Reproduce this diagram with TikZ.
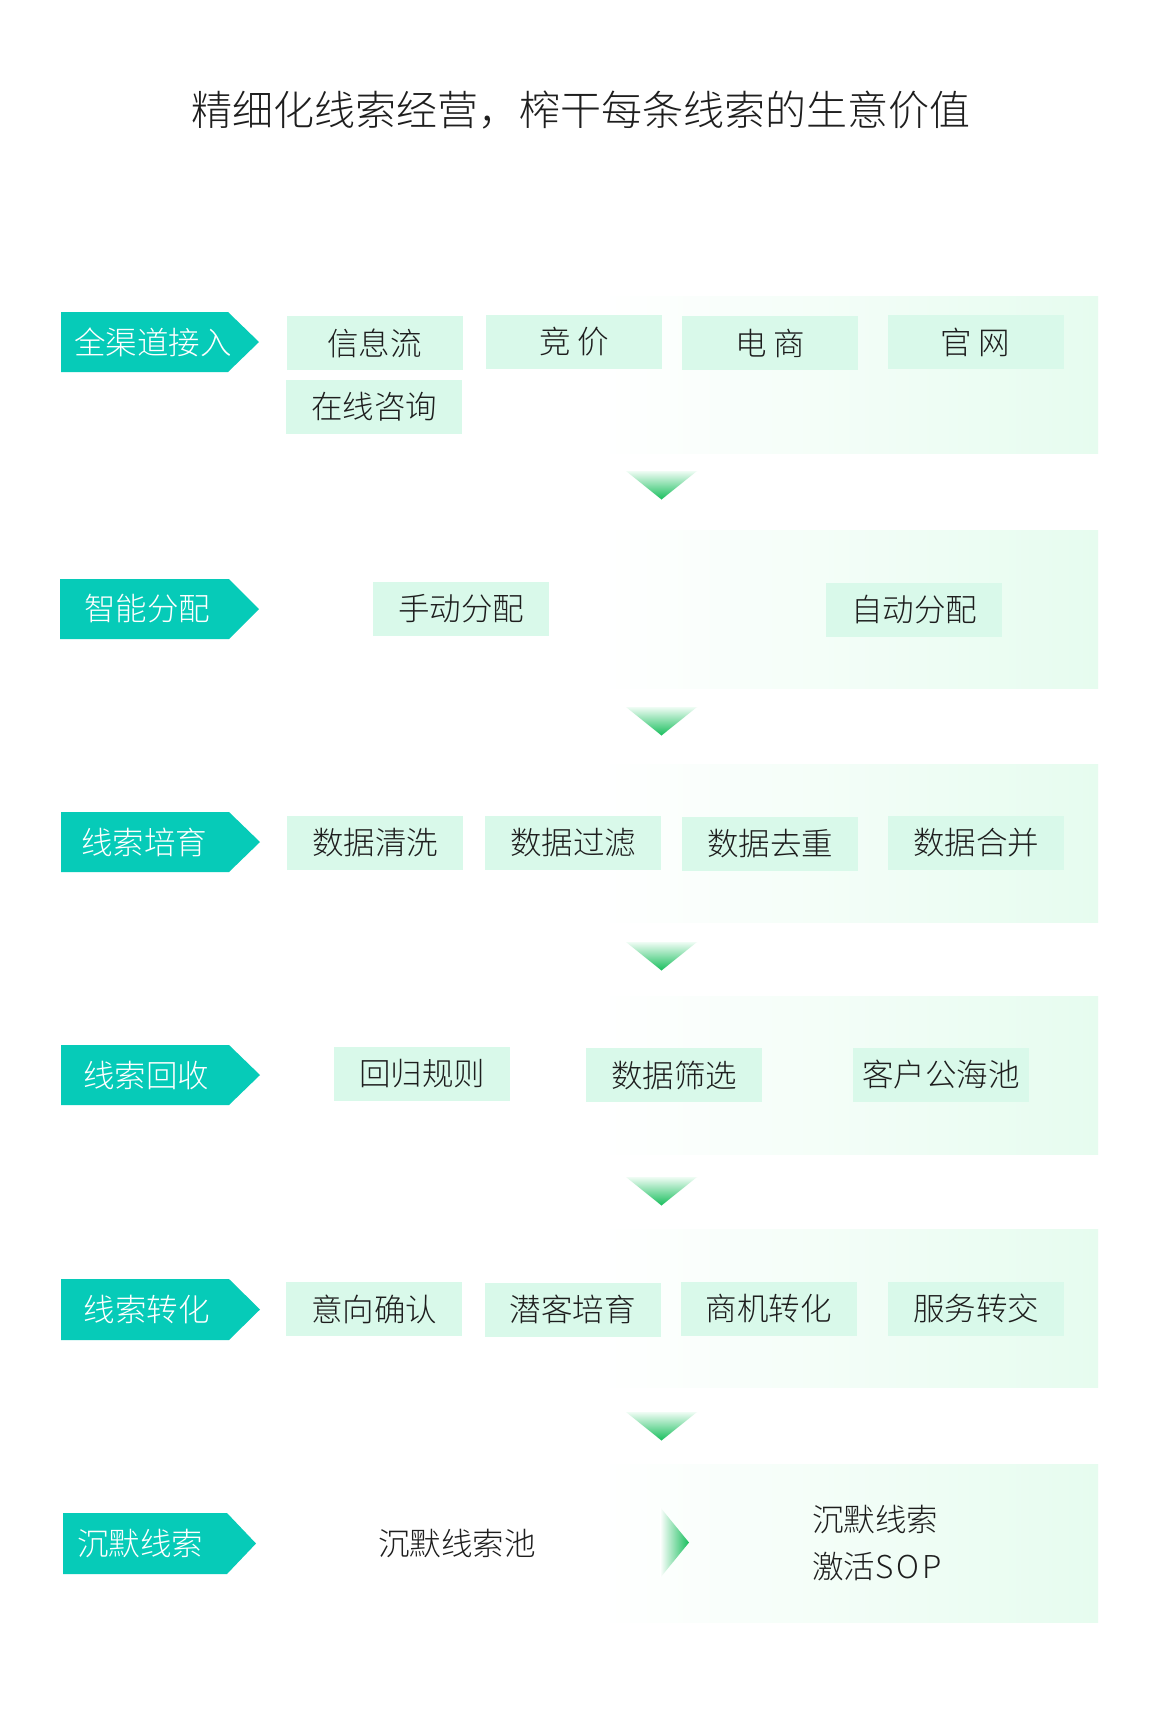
\documentclass[tikz,border=0pt]{standalone}
\usepackage{fontspec}
\setmainfont{Noto Sans CJK SC Light}
\definecolor{lblc}{HTML}{06CBB8}
\definecolor{boxc}{HTML}{D9F9EA}
\definecolor{txt}{HTML}{1E1E1E}
\definecolor{bgL}{HTML}{FFFFFF}
\definecolor{bgR}{HTML}{E6FCEF}
\definecolor{triL}{HTML}{EFFCF4}
\definecolor{triD}{HTML}{17BE5C}
\begin{document}
\begin{tikzpicture}[x=1pt,y=-1pt,
  lblshape/.style={fill=lblc,draw=none},
  lbltext/.style={text=white,font=\fontsize{31.5}{38}\selectfont,inner sep=0pt,anchor=center},
  box/.style={fill=boxc,draw=none,minimum width=176pt,minimum height=54pt,inner sep=0pt,
    font=\fontsize{31.5}{38}\selectfont,text=txt},
  plain/.style={font=\fontsize{31.5}{38}\selectfont,text=txt,inner sep=0pt},
  rowbg/.style={left color=bgL,right color=bgR,draw=none},
  downtri/.style={top color=triL,bottom color=triD,draw=none},
  righttri/.style={left color=white,right color=triD,draw=none}]
\useasboundingbox[fill=white] (0,0) rectangle (1160,1716);

% title
\node[font=\fontsize{41}{48}\selectfont,text=txt,inner sep=0pt] (title) at (581,110) {精细化线索经营，榨干每条线索的生意价值};

% row backgrounds
\shade[rowbg] (600,296) rectangle (1098,453);
\shade[rowbg] (600,530) rectangle (1098,688);
\shade[rowbg] (600,764) rectangle (1098,922);
\shade[rowbg] (600,996) rectangle (1098,1154);
\shade[rowbg] (600,1229) rectangle (1098,1387);
\shade[rowbg] (600,1464) rectangle (1098,1622);

% labels
\fill[lblshape] (61,312) -- (228,312) -- (259,342) -- (228,372) -- (61,372) -- cycle;
\node[lbltext] (l1) at (153,342) {全渠道接入};
\fill[lblshape] (60,579) -- (229,579) -- (259,609) -- (229,639) -- (60,639) -- cycle;
\node[lbltext] (l2) at (147,609) {智能分配};
\fill[lblshape] (61,812) -- (229,812) -- (260,842) -- (229,872) -- (61,872) -- cycle;
\node[lbltext] (l3) at (144,842) {线索培育};
\fill[lblshape] (61,1045) -- (229,1045) -- (260,1075) -- (229,1105) -- (61,1105) -- cycle;
\node[lbltext] (l4) at (146,1075) {线索回收};
\fill[lblshape] (61,1279) -- (229,1279) -- (260,1309.5) -- (229,1340) -- (61,1340) -- cycle;
\node[lbltext] (l5) at (146.5,1309.5) {线索转化};
\fill[lblshape] (63,1513) -- (227,1513) -- (256,1543.5) -- (227,1574) -- (63,1574) -- cycle;
\node[lbltext] (l6) at (140,1543.5) {沉默线索};

% row 1
\node[box] (b11) at (374.5,343) {信息流};
\node[box] (b12) at (574,342) {竞 价};
\node[box] (b13) at (770,343) {电 商};
\node[box] (b14) at (975.5,342) {官 网};
\node[box] (b15) at (374,407) {在线咨询};
% row 2
\node[box] (b21) at (461,609) {手动分配};
\node[box] (b22) at (914,609.5) {自动分配};
% row 3
\node[box] (b31) at (375,843) {数据清洗};
\node[box] (b32) at (573,842.5) {数据过滤};
\node[box] (b33) at (770,843.5) {数据去重};
\node[box] (b34) at (976,842.5) {数据合并};
% row 4
\node[box] (b41) at (422,1074) {回归规则};
\node[box] (b42) at (674,1075) {数据筛选};
\node[box] (b43) at (941,1074.5) {客户公海池};
% row 5
\node[box] (b51) at (374,1309) {意向确认};
\node[box] (b52) at (572.5,1309.5) {潜客培育};
\node[box] (b53) at (768.5,1308.5) {商机转化};
\node[box] (b54) at (976,1308.5) {服务转交};
% row 6
\node[plain] (b61) at (457,1543) {沉默线索池};
\node[plain,anchor=west,align=left,font=\fontsize{31.5}{47}\selectfont] (b62) at (812,1543.5) {沉默线索\\激活S\kern3ptO\kern3ptP};

% down triangles
\foreach \ty in {471,707,942,1177,1412}{
  \shade[downtri] (626,\ty) -- (697,\ty) -- (661.5,\ty+28.5) -- cycle;
}
% right triangle
\shade[righttri] (660,1507) -- (689,1542.5) -- (660,1578) -- cycle;
\end{tikzpicture}
\end{document}
